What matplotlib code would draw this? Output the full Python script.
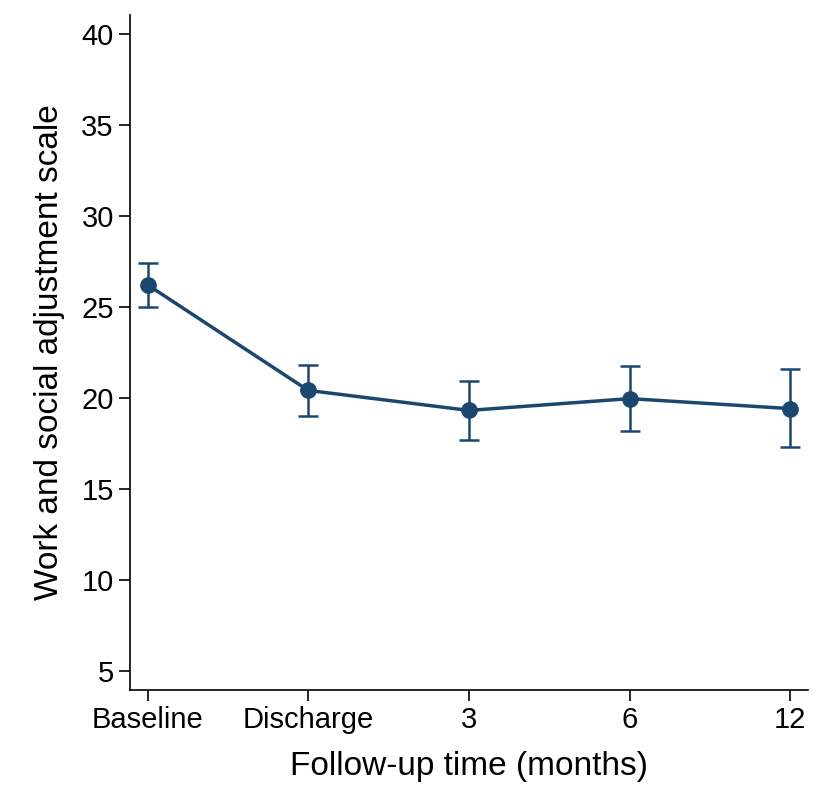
import matplotlib
matplotlib.use('Agg')
import matplotlib.pyplot as plt

plt.rcParams['font.family'] = ['Liberation Sans', 'DejaVu Sans']

# Data
labels = ['Baseline', 'Discharge', '3', '6', '12']
means = [26.2, 20.4, 19.3, 19.95, 19.4]
lower = [25.0, 19.0, 17.7, 18.15, 17.3]
upper = [27.4, 21.8, 20.9, 21.75, 21.6]

color = '#1a476f'
x = list(range(len(labels)))
yerr = [[m - l for m, l in zip(means, lower)], [u - m for m, u in zip(means, upper)]]

fig = plt.figure(figsize=(8.27, 8.06), dpi=100)
ax = fig.add_axes([0.157, 0.144, 0.82, 0.837])

ax.errorbar(x, means, yerr=yerr, fmt='o-', color=color, ecolor=color,
            elinewidth=1.8, capsize=7, capthick=1.8, linewidth=2.5, markersize=11)

ax.set_xlim(-0.11, 4.11)
ax.set_ylim(3.95, 41)
ax.set_yticks([5, 10, 15, 20, 25, 30, 35, 40])
ax.set_xticks(x)
ax.set_xticklabels(labels)
ax.tick_params(axis='both', labelsize=21, length=8, width=1.2, color='black')
ax.spines['top'].set_visible(False)
ax.spines['right'].set_visible(False)
ax.spines['left'].set_linewidth(1.2)
ax.spines['bottom'].set_linewidth(1.2)

ax.set_xlabel('Follow-up time (months)', fontsize=24, labelpad=12)
ax.set_ylabel('Work and social adjustment scale', fontsize=24, labelpad=12)

fig.savefig('out.png', dpi=100)
